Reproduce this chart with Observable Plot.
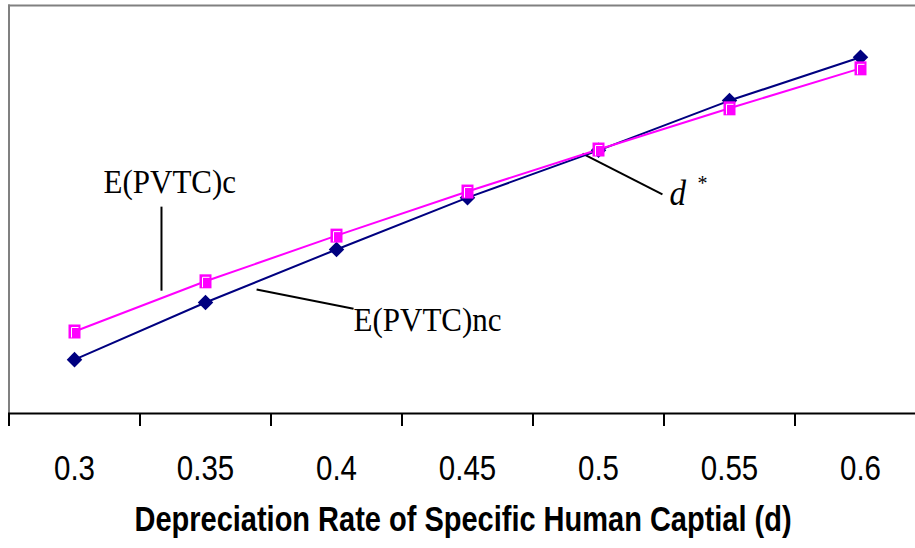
<!DOCTYPE html>
<html>
<head>
<meta charset="utf-8">
<script src="https://cdn.jsdelivr.net/npm/d3@7"></script>
<script src="https://cdn.jsdelivr.net/npm/@observablehq/plot@0.6"></script>
<style>
  html, body { margin: 0; padding: 0; background: #fff; }
  #chart svg { display: block; }
</style>
</head>
<body>
<div id="chart"></div>
<script>
// ---- data ----
const rates = [0.3, 0.35, 0.4, 0.45, 0.5, 0.55, 0.6];
const tickLabels = ["0.3", "0.35", "0.4", "0.45", "0.5", "0.55", "0.6"];
const pvtcNc = [13.2, 27.2, 40.2, 52.9, 64.5, 76.7, 87.3]; // E(PVTC)nc (navy diamonds)
const pvtcC  = [20.1, 32.4, 43.6, 54.4, 64.7, 74.8, 84.6]; // E(PVTC)c (magenta squares)
const xTitle = "Depreciation Rate of Specific Human Captial (d)";

// annotation labels and leader lines (data units)
const labels = [
  {x: 0.3111, y: 56.6, text: "E(PVTC)c", italic: false, size: 31, anchor: "start"},
  {x: 0.4065, y: 22.8, text: "E(PVTC)nc", italic: false, size: 31, anchor: "start"},
  {x: 0.5271, y: 53.9, text: "d", italic: true, size: 33, anchor: "start"},
  {x: 0.5397, y: 56.5, text: "*", italic: false, size: 20, anchor: "middle"}
];
const leaders = [
  {x1: 0.3332, y1: 50.7, x2: 0.3332, y2: 30.1},
  {x1: 0.3695, y1: 30.4, x2: 0.4065, y2: 25.7},
  {x1: 0.4939, y1: 63.7, x2: 0.5244, y2: 53.7}
];

// ---- derived tables ----
const half = (rates[1] - rates[0]) / 2;
const boundaries = rates.map(r => +(r - half).toFixed(4)).concat([+(rates[rates.length - 1] + half).toFixed(4)]);
const nc = rates.map((r, i) => ({x: r, y: pvtcNc[i]}));
const c  = rates.map((r, i) => ({x: r, y: pvtcC[i]}));

// Excel-like square marker with a white highlight
const squareFill = {draw(ctx) { ctx.rect(-6, -7, 12, 14); }};
const squareHi = {draw(ctx) { ctx.moveTo(-3, 6); ctx.lineTo(-3, -4); ctx.lineTo(4, -4); }};

const W = 915, H = 548;
const chart = Plot.plot({
  width: W,
  height: H,
  marginTop: 5,
  marginLeft: 8.5,
  marginRight: 0,
  marginBottom: 135,
  style: {background: "#fff", overflow: "hidden"},
  x: {type: "linear", domain: [boundaries[0], boundaries[boundaries.length - 1]], range: [8.5, 925.5]},
  y: {domain: [0, 100], axis: null},
  marks: [
    Plot.frame({anchor: "top", stroke: "#808080", strokeWidth: 2}),
    Plot.frame({anchor: "left", stroke: "#808080", strokeWidth: 2}),
    Plot.axisX(boundaries, {tickSize: 13, tickFormat: () => "", stroke: "#000", strokeWidth: 2}),
    Plot.axisX(rates, {tickSize: 0, tickPadding: 41, tickFormat: (d, i) => tickLabels[i],
      fontSize: 29.5, fontFamily: "Liberation Sans, Arial, sans-serif", fill: "#000", label: null}),
    Plot.frame({anchor: "bottom", stroke: "#000", strokeWidth: 2}),
    Plot.link(leaders, {x1: "x1", y1: "y1", x2: "x2", y2: "y2", stroke: "#000", strokeWidth: 2}),
    Plot.line(nc, {x: "x", y: "y", stroke: "#000080", strokeWidth: 2}),
    Plot.line(c, {x: "x", y: "y", stroke: "#FF00FF", strokeWidth: 2}),
    Plot.dot(nc, {x: "x", y: "y", symbol: "diamond2", r: 7, fill: "#000080", stroke: "none"}),
    Plot.dot(c, {x: "x", y: "y", symbol: squareFill, r: 6, fill: "#FF00FF", stroke: "none"}),
    Plot.dot(c, {x: "x", y: "y", symbol: squareHi, r: 6, fill: "none", stroke: "#fff", strokeWidth: 1}),
    Plot.text(labels.filter(d => d.anchor === "start" && !d.italic), {x: "x", y: "y", text: "text",
      textAnchor: "start", fontSize: 31, fontFamily: "Liberation Serif, Times New Roman, serif", fill: "#000"}),
    Plot.text(labels.filter(d => d.italic), {x: "x", y: "y", text: "text",
      textAnchor: "start", fontSize: 33, fontStyle: "italic", fontFamily: "Liberation Serif, Times New Roman, serif", fill: "#000"}),
    Plot.text(labels.filter(d => d.anchor === "middle"), {x: "x", y: "y", text: "text",
      textAnchor: "middle", fontSize: 20, fontFamily: "Liberation Serif, Times New Roman, serif", fill: "#000"}),
    Plot.text([xTitle], {frameAnchor: "bottom", x: () => 0.4483, text: d => d, dy: 117,
      fontSize: 29, fontWeight: "bold", fontFamily: "Liberation Sans, Arial, sans-serif", fill: "#000"})
  ]
});

// the reference's lettering is slightly stretched vertically
d3.select(chart).selectAll("text").each(function () {
  const t = this.getAttribute("transform") || "";
  const ff = (this.getAttribute("font-family") || this.parentNode.getAttribute("font-family") || "");
  const k = ff.indexOf("Serif") >= 0 ? 1.08 : 1.2;
  this.setAttribute("transform", (t + ` scale(1,${k})`).trim());
});
document.getElementById("chart").appendChild(chart);
</script>
</body>
</html>
